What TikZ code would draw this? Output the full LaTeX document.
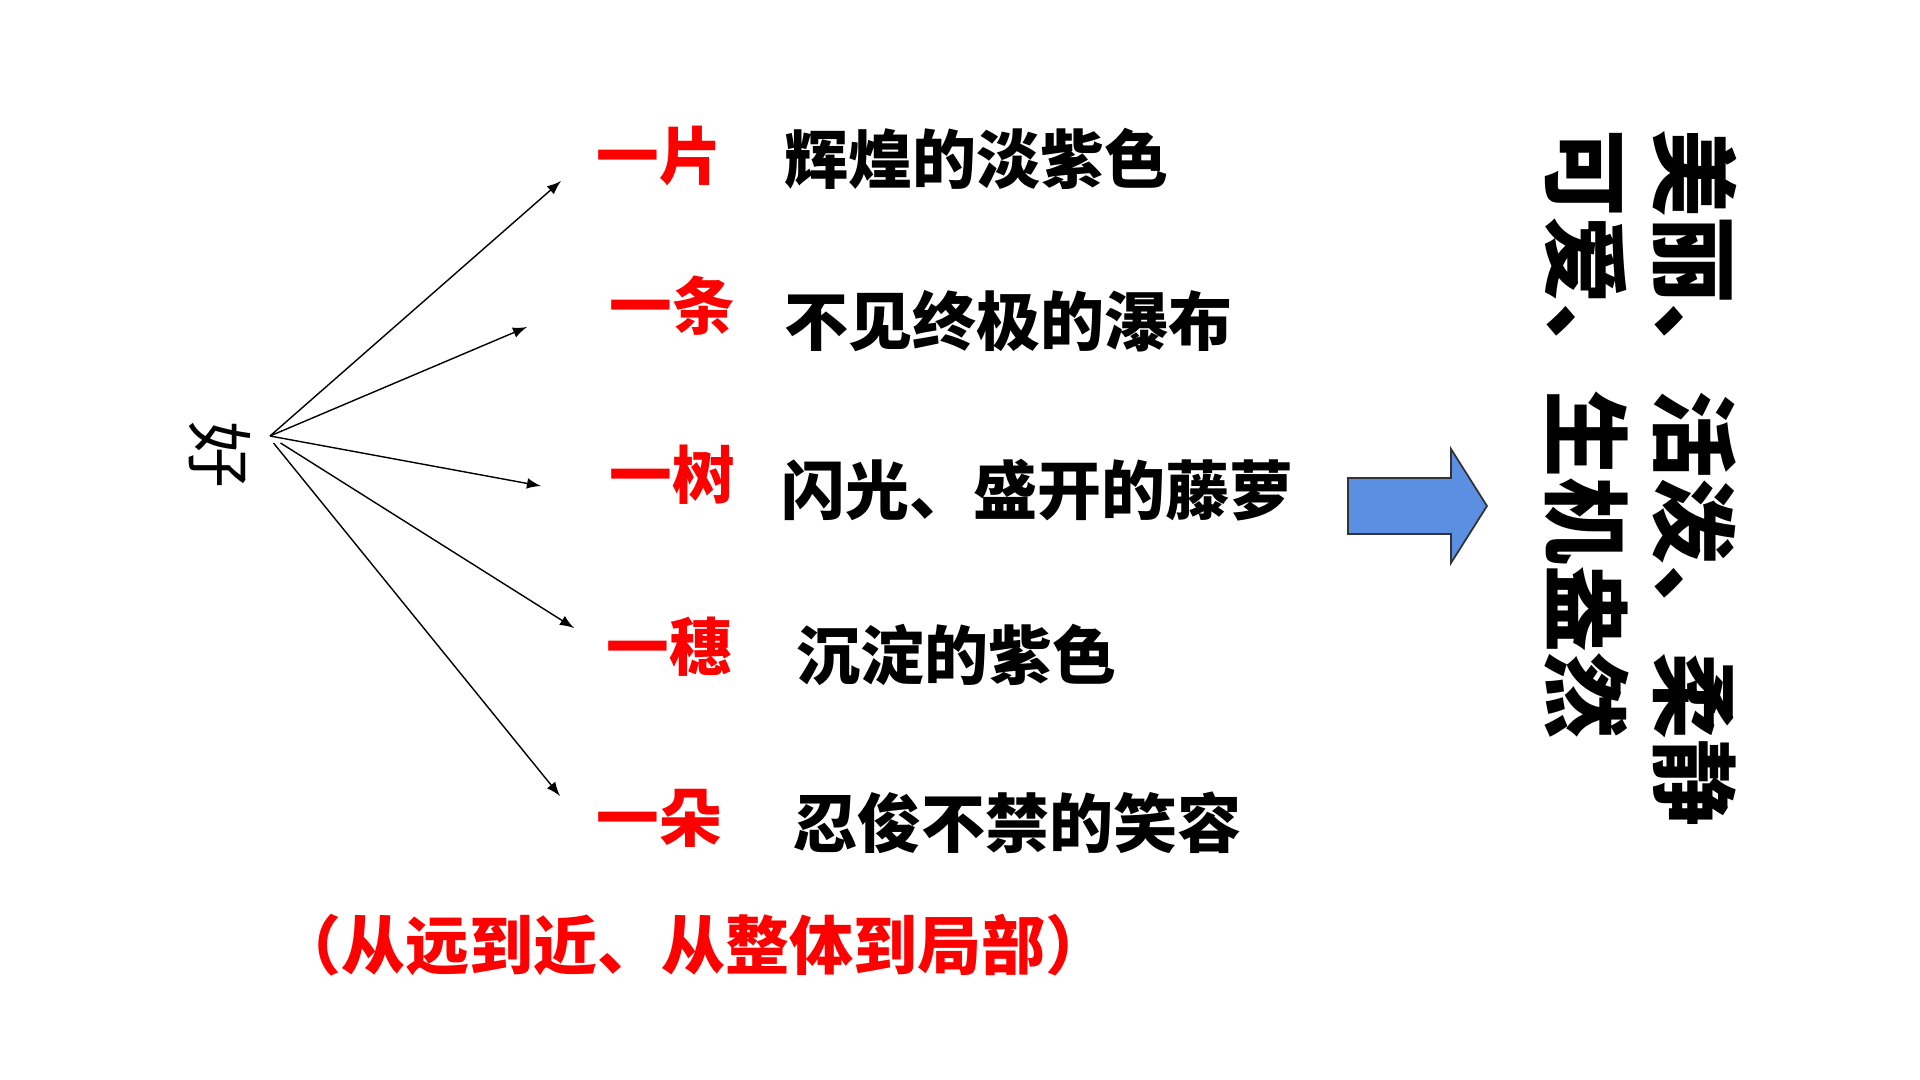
\documentclass[tikz,border=0pt]{standalone}
\usepackage{fontspec}
\newfontfamily\cjk{Noto Sans CJK SC}
\usetikzlibrary{positioning}

\begin{document}
\begin{tikzpicture}[x=0.01cm, y=-0.01cm,
        redlbl/.style={anchor=west, inner sep=0pt, text=red,
            font=\cjk\bfseries\fontsize{17.8}{20}\selectfont},
        desc/.style={anchor=west, inner sep=0pt,
            font=\cjk\bfseries\fontsize{18.2}{21}\selectfont},
        arr/.style={-latex, thin, black}
      ]
      \useasboundingbox (0,0) rectangle (1920,1080);

      % root character, turned on its side
      \node[rotate=-90, inner sep=0pt,
            font=\cjk\fontsize{19}{22}\selectfont] at (220,455) (hao) {好};
      \coordinate (root) at (270,436);

      % measure words, red
      \node[redlbl] at (596,156) (pian) {一片};
      \node[redlbl] at (609,306) (tiao) {一条};
      \node[redlbl] at (609,475) (shu)  {一树};
      \node[redlbl] at (606,647) (sui)  {一穗};
      \node[redlbl] at (596,818) (duo)  {一朵};

      % descriptions
      \node[desc] at (784,159) (dpian) {辉煌的淡紫色};
      \node[desc] at (784,321) (dtiao) {不见终极的瀑布};
      \node[desc] at (781,490) (dshu)  {闪光、盛开的藤萝};
      \node[desc] at (796,655) (dsui)  {沉淀的紫色};
      \node[desc] at (793,823) (dduo)  {忍俊不禁的笑容};

      % arrow ends, just short of the red words
      \coordinate (epian) at (561,181);
      \coordinate (etiao) at (527,327);
      \coordinate (eshu)  at (541,486);
      \coordinate (esui)  at (574,628);
      \coordinate (eduo)  at (560,796);

      \draw[arr] (root) -- (epian);
      \draw[arr] (root) -- (etiao);
      \draw[arr] (root) -- (eshu);
      \draw[arr] ([xshift=3pt,yshift=-2pt]root) -- (esui);
      \draw[arr] ([xshift=1pt,yshift=-2pt]root) -- (eduo);

      % note below
      \node[anchor=west, inner sep=0pt, text=red,
            font=\cjk\bfseries\fontsize{18.2}{21}\selectfont]
            at (277,945) (note) {（从远到近、从整体到局部）};

      % block arrow
      \draw[fill={rgb,255:red,91;green,143;blue,225}, draw=black!80, line width=0.5pt]
            (1348,478) -- (1451,478) -- (1451,449) -- (1487,506)
            -- (1451,563) -- (1451,534) -- (1348,534) -- cycle;

      % summary, set vertically
      \node[rotate=-90, inner sep=0pt, align=left,
            font=\cjk\bfseries\fontsize{24.8}{30.7}\selectfont]
            at (1641,478) (sum) {美丽、活泼、柔静\\可爱、生机盎然};
    \end{tikzpicture}
\end{document}
